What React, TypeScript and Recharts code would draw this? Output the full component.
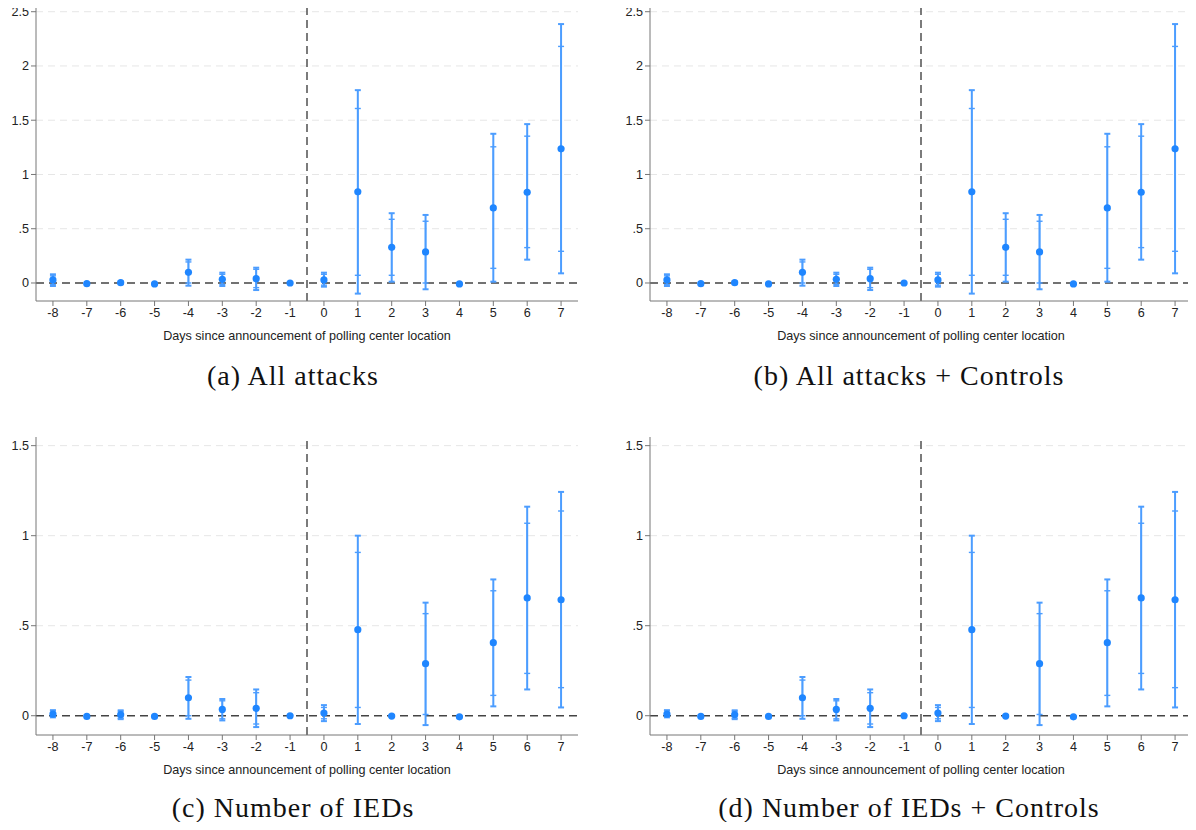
import React from "react";
import {
  ScatterChart,
  Scatter,
  XAxis,
  YAxis,
  CartesianGrid,
  ReferenceLine,
  ErrorBar,
} from "recharts";

const days = [-8, -7, -6, -5, -4, -3, -2, -1, 0, 1, 2, 3, 4, 5, 6, 7];

// All attacks
const attacksEst = [0.028, -0.006, 0.003, -0.009, 0.098, 0.034, 0.04, 0.0, 0.028, 0.84, 0.329, 0.286, -0.009, 0.692, 0.836, 1.236];
const attacksLo95 = [-0.028, -0.012, -0.008, -0.014, -0.025, -0.028, -0.065, -0.004, -0.034, -0.098, 0.012, -0.058, -0.014, 0.012, 0.215, 0.089];
const attacksHi95 = [0.08, 0.0, 0.014, -0.004, 0.215, 0.095, 0.141, 0.004, 0.095, 1.777, 0.643, 0.627, -0.004, 1.375, 1.464, 2.386];
const attacksLo90 = [-0.015, -0.01, -0.005, -0.012, 0.0, -0.012, -0.043, -0.002, -0.02, 0.071, 0.071, 0.0, -0.012, 0.135, 0.326, 0.292];
const attacksHi90 = [0.066, -0.002, 0.011, -0.006, 0.194, 0.08, 0.126, 0.002, 0.08, 1.608, 0.587, 0.569, -0.006, 1.255, 1.353, 2.18];

// Number of IEDs
const iedsEst = [0.009, -0.004, 0.006, -0.004, 0.1, 0.035, 0.041, 0.0, 0.015, 0.478, -0.002, 0.289, -0.006, 0.406, 0.654, 0.644];
const iedsLo95 = [-0.009, -0.008, -0.019, -0.008, -0.017, -0.026, -0.063, -0.003, -0.03, -0.046, -0.006, -0.052, -0.01, 0.052, 0.146, 0.046];
const iedsHi95 = [0.031, 0.0, 0.03, 0.0, 0.215, 0.093, 0.146, 0.003, 0.059, 1.0, 0.002, 0.628, -0.002, 0.757, 1.161, 1.243];
const iedsLo90 = [-0.005, -0.007, -0.014, -0.007, 0.0, -0.017, -0.046, -0.002, -0.017, 0.046, -0.005, 0.007, -0.009, 0.113, 0.235, 0.156];
const iedsHi90 = [0.027, -0.001, 0.025, -0.001, 0.198, 0.083, 0.128, 0.002, 0.046, 0.907, 0.001, 0.567, -0.003, 0.694, 1.069, 1.137];

const attacksTicks = [0, 0.5, 1, 1.5, 2, 2.5];
const iedsTicks = [0, 0.5, 1, 1.5];
const xLabel = "Days since announcement of polling center location";
const captions = [
  "(a) All attacks",
  "(b) All attacks + Controls",
  "(c) Number of IEDs",
  "(d) Number of IEDs + Controls",
];

const DOT = "#1f86ff";
const BAR = "#4c9dff";
const AXIS = "#777";
const FONT = "'Liberation Sans', Arial, sans-serif";
const FS = 12.6;

const fmtY = (v: number) => {
  if (v === 0) return "0";
  const s = String(v);
  return s.startsWith("0.") ? s.slice(1) : s;
};

function buildRows(est: number[], lo95: number[], hi95: number[], lo90: number[], hi90: number[]) {
  return days.map((d, i) => ({
    day: d,
    est: est[i],
    e95: [est[i] - lo95[i], hi95[i] - est[i]],
    e90: [est[i] - lo90[i], hi90[i] - est[i]],
  }));
}

const Dot = (p: any) => <circle cx={p.cx} cy={p.cy} r={3.6} fill={DOT} />;

function Panel(props: {
  left: number;
  top: number;
  height: number;
  rows: any[];
  ticks: number[];
  domain: [number, number];
}) {
  const { left, top, height, rows, ticks, domain } = props;
  return (
    <div style={{ position: "absolute", left, top }}>
      <ScatterChart
        width={582}
        height={height}
        margin={{ top: 4, right: 4, bottom: 0, left: 0 }}
        style={{ overflow: "visible" }}
      >
        <CartesianGrid
          vertical={false}
          horizontal
          stroke="#e6e6e6"
          strokeDasharray="7 5"
          horizontalValues={ticks.filter((t) => t !== 0)}
        />
        <XAxis
          type="number"
          dataKey="day"
          domain={[-8.5, 7.5]}
          ticks={days}
          interval={0}
          allowDataOverflow
          height={44}
          stroke={AXIS}
          tickSize={5}
          tickMargin={2}
          tick={{ fill: "#222", fontSize: FS, fontFamily: FONT }}
          label={{
            value: xLabel,
            position: "insideBottom",
            offset: 5,
            fill: "#222",
            fontSize: FS,
            fontFamily: FONT,
          }}
        />
        <YAxis
          type="number"
          dataKey="est"
          domain={domain}
          ticks={ticks}
          interval={0}
          allowDataOverflow
          width={36}
          stroke={AXIS}
          tickSize={5}
          tickMargin={2}
          tickFormatter={fmtY}
          tick={{ fill: "#222", fontSize: FS, fontFamily: FONT }}
        />
        <ReferenceLine y={0} stroke="#444" strokeWidth={1.4} strokeDasharray="8 5" />
        <ReferenceLine x={-0.5} stroke="#444" strokeWidth={1.4} strokeDasharray="8 5" />
        <Scatter data={rows} dataKey="est" isAnimationActive={false} shape={Dot}>
          <ErrorBar dataKey="e95" direction="y" width={3} stroke={BAR} strokeWidth={2} />
          <ErrorBar dataKey="e90" direction="y" width={3} stroke={BAR} strokeWidth={1.4} />
        </Scatter>
      </ScatterChart>
    </div>
  );
}

const captionStyle = (cx: number, cy: number): React.CSSProperties => ({
  position: "absolute",
  left: cx - 300,
  width: 600,
  top: cy - 18,
  textAlign: "center",
  fontFamily: "'Liberation Serif', 'Times New Roman', serif",
  fontSize: 28,
  letterSpacing: 1,
  lineHeight: "34px",
  color: "#111",
});

export default function App() {
  const attacksRows = buildRows(attacksEst, attacksLo95, attacksHi95, attacksLo90, attacksHi90);
  const iedsRows = buildRows(iedsEst, iedsLo95, iedsHi95, iedsLo90, iedsHi90);
  const aDomain: [number, number] = [-0.166, 2.571];
  const cDomain: [number, number] = [-0.107, 1.548];
  return (
    <div style={{ position: "relative", width: 1196, height: 830, margin: -8, background: "#fff", overflow: "hidden" }}>
      <Panel left={0} top={0} height={345} rows={attacksRows} ticks={attacksTicks} domain={aDomain} />
      <Panel left={614} top={0} height={345} rows={attacksRows} ticks={attacksTicks} domain={aDomain} />
      <Panel left={0} top={433} height={346} rows={iedsRows} ticks={iedsTicks} domain={cDomain} />
      <Panel left={614} top={433} height={346} rows={iedsRows} ticks={iedsTicks} domain={cDomain} />
      <div style={captionStyle(293, 377)}>{captions[0]}</div>
      <div style={captionStyle(909, 377)}>{captions[1]}</div>
      <div style={captionStyle(293, 809)}>{captions[2]}</div>
      <div style={captionStyle(909, 809)}>{captions[3]}</div>
    </div>
  );
}
